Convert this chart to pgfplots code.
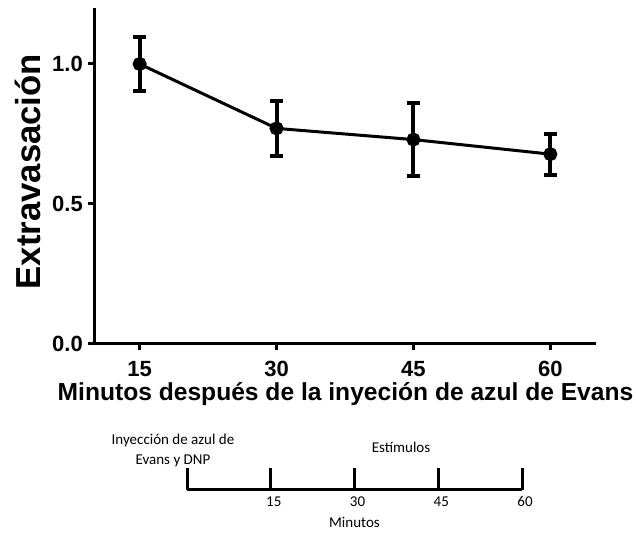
\documentclass[border=0pt]{standalone}
\usepackage{fontspec}
\setmainfont{Liberation Sans}
\newfontfamily\calibri{Carlito}
\usepackage{pgfplots}
\pgfplotsset{compat=1.18}
\begin{document}
\begin{tikzpicture}[x=1bp,y=1bp]
\useasboundingbox (0,0) rectangle (636,533);
\begin{axis}[
  at={(94bp,189bp)}, anchor=south west,
  scale only axis, width=502bp, height=336bp,
  xmin=10, xmax=65, ymin=0, ymax=1.2,
  axis x line*=bottom, axis y line*=left,
  axis line style={line width=3bp,-},
  xtick={15,30,45,60}, ytick={0,0.5,1},
  tick style={line width=3bp, black},
  tick align=outside, major tick length=6bp,
  yticklabel style={xshift=-3bp, /pgf/number format/fixed, /pgf/number format/fixed zerofill, /pgf/number format/precision=1, /pgf/number format/assume math mode=true},
  xticklabel style={yshift=-9bp, /pgf/number format/assume math mode=true},
  ticklabel style={font=\fontsize{22bp}{24bp}\selectfont\bfseries, inner sep=2bp},
  xlabel={Minutos después de la inyeción de azul de Evans},
  xlabel style={font=\fontsize{24.6bp}{28bp}\selectfont\bfseries, at={(axis description cs:0.501,-0.1667)}, anchor=base},
  ylabel={Extravasación},
  ylabel style={font=\fontsize{34.7bp}{40bp}\selectfont\bfseries, at={(axis description cs:-0.1315,0.513)}, anchor=center},
  clip=false,
]
\addplot[line width=3bp, black, mark=*, mark size=5.5bp,
  error bars/.cd, y dir=both, y explicit,
  error bar style={line width=4bp, black},
  error mark options={rotate=90, line width=4bp, mark size=6.5bp, black}]
  table[x=x, y=y, y error=e] {
x y e
15 1.000 0.097
30 0.770 0.097
45 0.730 0.130
60 0.678 0.073
};
\end{axis}
\begin{axis}[
  at={(187bp,43bp)}, anchor=south west,
  scale only axis, width=335bp, height=22bp,
  xmin=0, xmax=60, ymin=0, ymax=1,
  axis line style={draw=none},
  major tick length=0pt,
  xtick={15,30,45,60}, ytick=\empty,
  xticklabel style={font=\calibri\fontsize{15bp}{18bp}\selectfont, anchor=base, yshift=-17bp, xshift=3bp, /pgf/number format/assume math mode=true},
  xlabel={Minutos},
  xlabel style={font=\calibri\fontsize{15bp}{18bp}\selectfont, at={(axis description cs:0.5,0)}, anchor=base, yshift=-38bp},
  clip=false,
]
\addplot[line width=3bp, black] coordinates {(0,0) (60,0)};
\addplot[ycomb, line width=3bp, black] coordinates {(0,1) (15,1) (30,1) (45,1) (60,1)};
\end{axis}
\node[font=\calibri\fontsize{15bp}{20bp}\selectfont, align=center] at (173,82) {Inyección de azul de\\Evans y DNP};
\node[font=\calibri\fontsize{15bp}{18bp}\selectfont] at (401,86) {Estímulos};
\end{tikzpicture}
\end{document}
